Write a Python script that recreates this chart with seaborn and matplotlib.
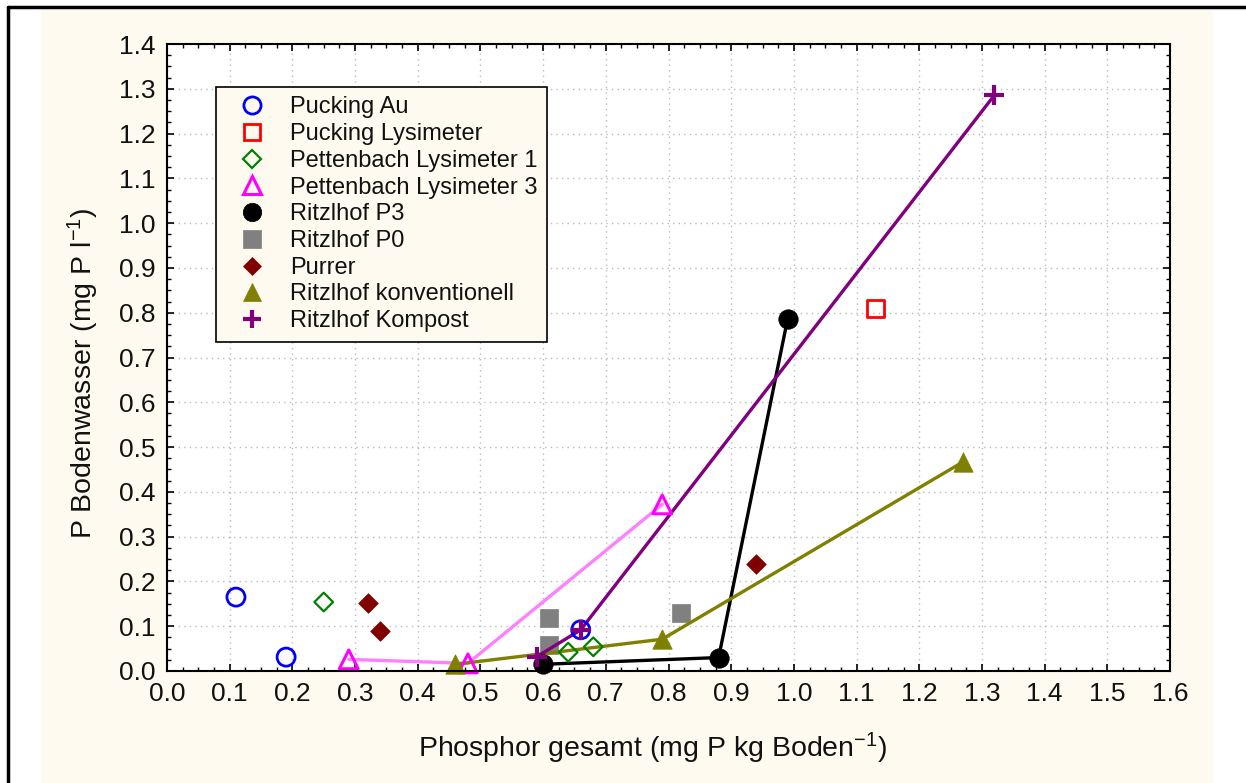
import matplotlib
matplotlib.use("Agg")
import matplotlib.pyplot as plt
import seaborn as sns
import pandas as pd
from matplotlib.lines import Line2D
from matplotlib.patches import Rectangle
from matplotlib.ticker import MultipleLocator

# ---------------- data ----------------
pucking_au_x = [0.11, 0.19, 0.66]
pucking_au_y = [0.165, 0.031, 0.092]
pucking_lys_x = [1.13]
pucking_lys_y = [0.81]
pett1_x = [0.25, 0.64, 0.68]
pett1_y = [0.154, 0.042, 0.054]
pett3_x = [0.29, 0.48, 0.79]
pett3_y = [0.026, 0.017, 0.372]
p3_x = [0.60, 0.88, 0.99]
p3_y = [0.015, 0.030, 0.786]
p0_x = [0.61, 0.61, 0.82]
p0_y = [0.118, 0.058, 0.130]
purrer_x = [0.32, 0.34, 0.94]
purrer_y = [0.151, 0.090, 0.238]
konv_x = [0.46, 0.79, 1.27]
konv_y = [0.015, 0.071, 0.467]
kompost_x = [0.59, 0.66, 1.32]
kompost_y = [0.032, 0.092, 1.286]

labels = ["Pucking Au", "Pucking Lysimeter", "Pettenbach Lysimeter 1",
          "Pettenbach Lysimeter 3", "Ritzlhof P3", "Ritzlhof P0", "Purrer",
          "Ritzlhof konventionell", "Ritzlhof Kompost"]
x_ticks = [0.0, 0.1, 0.2, 0.3, 0.4, 0.5, 0.6, 0.7, 0.8, 0.9, 1.0, 1.1, 1.2, 1.3, 1.4, 1.5, 1.6]
y_ticks = [0.0, 0.1, 0.2, 0.3, 0.4, 0.5, 0.6, 0.7, 0.8, 0.9, 1.0, 1.1, 1.2, 1.3, 1.4]

# ---------------- style ----------------
sns.set_theme(style="white")
plt.rcParams["font.family"] = ["Liberation Sans", "DejaVu Sans"]
plt.rcParams["mathtext.fontset"] = "custom"
plt.rcParams["mathtext.rm"] = "Liberation Sans"
plt.rcParams["mathtext.it"] = "Liberation Sans"

CREAM = "#FEFAEF"
series = [
    # x, y, marker, size(pt), face, edge, mew, line color
    (pucking_au_x, pucking_au_y, "o", 13, "none", "#0000FF", 2.0, None),
    (pucking_lys_x, pucking_lys_y, "s", 12.5, "none", "#FF0000", 2.0, None),
    (pett1_x, pett1_y, "D", 9.5, "none", "#008000", 1.6, None),
    (pett3_x, pett3_y, "^", 13.5, "none", "#FF00FF", 2.2, "#FF80FF"),
    (p3_x, p3_y, "o", 14, "#000000", "#000000", 0.5, "#000000"),
    (p0_x, p0_y, "s", 13.5, "#808080", "#808080", 0.5, None),
    (purrer_x, purrer_y, "D", 10, "#800000", "#800000", 0.5, None),
    (konv_x, konv_y, "^", 14, "#808000", "#808000", 0.5, "#808000"),
    (kompost_x, kompost_y, "+", 14, "#800080", "#800080", 3.0, "#800080"),
]

fig = plt.figure(figsize=(12.46, 7.83), dpi=100, facecolor="white")
# cream panel and frame lines
bg = Rectangle((41 / 1246, 0), (1213 - 41) / 1246, (783 - 10) / 783,
               transform=fig.transFigure, facecolor=CREAM, edgecolor="none", zorder=-10)
fig.add_artist(bg)
fig.add_artist(Line2D([8 / 1246, 1.0], [1 - 7 / 783, 1 - 7 / 783], transform=fig.transFigure,
                      color="black", lw=2.5))
fig.add_artist(Line2D([8 / 1246, 8 / 1246], [0, 1 - 7 / 783], transform=fig.transFigure,
                      color="black", lw=2.5))

ax = fig.add_axes([167 / 1246, (783 - 671) / 783, (1170 - 167) / 1246, (671 - 44) / 783])
ax.set_facecolor("white")
ax.set_zorder(1)

for i, (xs, ys, mk, ms, fc, ec, mew, lc) in enumerate(series):
    df = pd.DataFrame({"x": xs, "y": ys})
    if lc is not None:
        sns.lineplot(data=df, x="x", y="y", sort=False, estimator=None, color=lc,
                     linewidth=2.4, ax=ax, zorder=3, legend=False)
    z = 2 if mk == "s" and fc != "none" else 4
    if mk == "+":
        sns.scatterplot(data=df, x="x", y="y", marker=mk, s=ms ** 2, color=ec,
                        linewidth=mew, ax=ax, zorder=z, clip_on=False, legend=False)
    else:
        sns.scatterplot(data=df, x="x", y="y", marker=mk, s=ms ** 2, color=ec,
                        facecolor=fc, edgecolor=ec, linewidth=mew, ax=ax, zorder=z,
                        clip_on=False, legend=False)

ax.set_xlim(0, 1.6)
ax.set_ylim(0, 1.4)
ax.set_xticks(x_ticks)
ax.set_yticks(y_ticks)
ax.set_xticklabels([f"{v:.1f}" for v in x_ticks])
ax.set_yticklabels([f"{v:.1f}" for v in y_ticks])
ax.xaxis.set_minor_locator(MultipleLocator(0.025))
ax.yaxis.set_minor_locator(MultipleLocator(0.025))
ax.tick_params(which="both", direction="in", top=True, right=True, bottom=True, left=True,
               color="black")
ax.tick_params(which="major", length=5, width=1.2, labelsize=19, pad=8, labelcolor="#111111")
ax.tick_params(which="minor", length=3, width=1.0)
ax.grid(True, which="major", linestyle=(0, (1, 3)), color="#BBBBBB", linewidth=1.0)
ax.set_axisbelow(True)
for sp in ax.spines.values():
    sp.set_color("black")
    sp.set_linewidth(1.5)
    sp.set_zorder(5)

ax.set_xlabel(r"Phosphor gesamt (mg P kg Boden$^{\mathregular{-1}}$)", fontsize=20.5,
              labelpad=18, color="#111111")
ax.set_ylabel(r"P Bodenwasser (mg P l$^{\mathregular{-1}}$)", fontsize=20.5,
              labelpad=13, color="#111111")
ax.xaxis.label.set_x((653 - 167) / 1003)
ax.yaxis.label.set_y((671 - 373) / 627)

handles = []
for (xs, ys, mk, ms, fc, ec, mew, lc), lab in zip(series, labels):
    handles.append(Line2D([], [], linestyle="none", marker=mk, markersize=ms * 0.95,
                          markerfacecolor=fc, markeredgecolor=ec,
                          markeredgewidth=mew if fc == "none" or mk == "+" else 0.5,
                          label=lab))
leg = ax.legend(handles=handles, loc="upper left",
                bbox_to_anchor=((216 - 167) / 1003, (671 - 87) / 627),
                borderaxespad=0, fontsize=17, frameon=True, fancybox=False,
                facecolor=CREAM, edgecolor="black", framealpha=1, labelspacing=0.2,
                handletextpad=0.5, borderpad=0.4, handlelength=2.25)
leg.get_frame().set_linewidth(1.2)
for t in leg.get_texts():
    t.set_color("#111111")

fig.savefig("out.png", dpi=100, facecolor=fig.get_facecolor())
